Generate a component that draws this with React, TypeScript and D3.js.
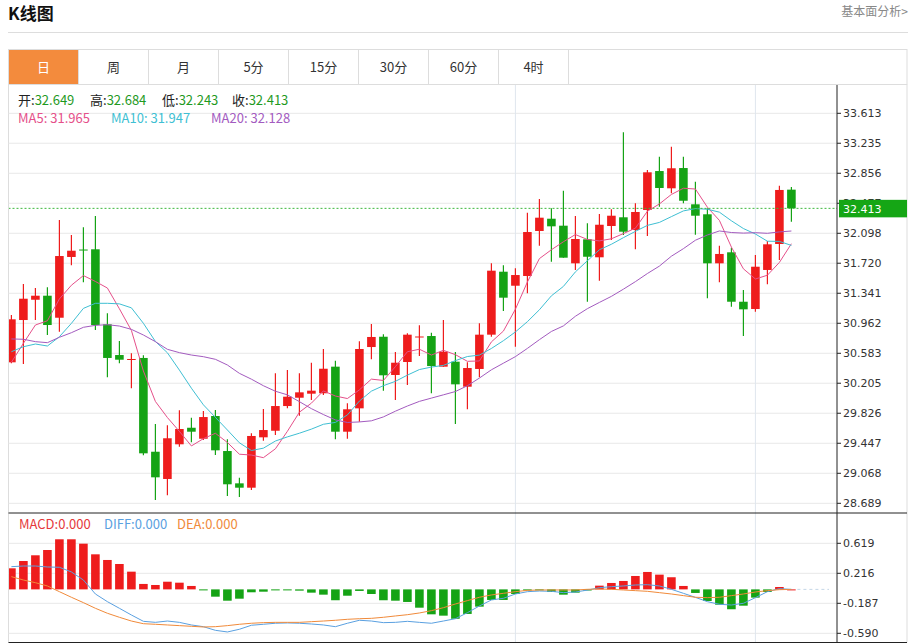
import * as d3 from "d3"

// K-line (daily) data
const opens = [
  30.469, 31.003, 31.259, 31.31, 31.032, 31.799, 31.893, 31.896, 30.949, 30.561,
  30.501, 30.524, 29.34, 28.996, 29.434, 29.643, 29.504, 29.791, 29.349, 28.941,
  28.886, 29.522, 29.605, 29.917, 30.022, 30.073, 30.078, 30.414, 29.593, 29.888,
  30.662, 30.792, 30.309, 30.473, 30.786, 30.801, 30.414, 30.477, 30.161, 30.385,
  30.818, 31.613, 31.436, 31.559, 32.127, 32.282, 32.194, 31.719, 32.022, 31.795,
  32.19, 32.3, 32.14, 32.392, 32.884, 32.666, 32.922, 32.464, 32.338, 31.719,
  31.858, 31.234, 31.142, 31.635, 31.963, 32.649,
]
const highs = [
  31.066, 31.458, 31.407, 31.416, 32.266, 32.077, 32.174, 32.316, 31.088, 30.738,
  30.583, 30.557, 29.69, 29.674, 29.863, 29.77, 29.854, 29.867, 29.497, 29.012,
  29.573, 29.88, 30.33, 30.372, 30.33, 30.464, 30.637, 30.489, 29.951, 30.734,
  30.953, 30.823, 30.599, 30.835, 30.936, 30.843, 31.003, 30.599, 30.469, 30.962,
  31.719, 31.694, 31.656, 32.358, 32.531, 32.414, 32.636, 32.316, 32.224, 32.342,
  32.401, 33.373, 32.477, 32.897, 33.065, 33.191, 33.065, 32.749, 32.414, 31.941,
  31.916, 31.382, 31.824, 32.001, 32.699, 32.684,
]
const lows = [
  30.456, 30.448, 31.003, 30.814, 30.855, 31.694, 31.479, 30.877, 30.28, 30.456,
  30.141, 29.295, 28.73, 28.79, 29.404, 29.459, 29.488, 29.299, 28.781, 28.768,
  28.857, 29.479, 29.551, 29.888, 29.795, 29.993, 30.056, 29.497, 29.504, 29.719,
  30.507, 30.111, 29.993, 30.183, 30.549, 30.078, 30.414, 29.69, 29.876, 30.28,
  30.792, 31.117, 30.666, 31.34, 31.941, 31.739, 31.79, 31.634, 31.234, 31.499,
  32.013, 32.076, 31.896, 32.064, 32.434, 32.603, 32.476, 32.08, 31.277, 31.479,
  31.171, 30.801, 31.108, 31.454, 31.761, 32.243,
]
const closes = [
  31.012, 31.272, 31.31, 30.94, 31.811, 31.878, 31.881, 30.94, 30.524, 30.502,
  30.511, 29.32, 29.017, 29.51, 29.627, 29.593, 29.778, 29.358, 28.929, 28.886,
  29.539, 29.614, 29.917, 30.035, 30.09, 30.111, 30.388, 29.593, 29.876, 30.637,
  30.789, 30.305, 30.464, 30.818, 30.795, 30.422, 30.603, 30.191, 30.397, 30.818,
  31.626, 31.285, 31.571, 32.114, 32.295, 32.186, 31.79, 32.026, 31.802, 32.206,
  32.32, 32.118, 32.367, 32.868, 32.67, 32.919, 32.509, 32.32, 31.719, 31.837,
  31.234, 31.138, 31.676, 31.959, 32.645, 32.413,
]

// MA values before a full window is on screen
const ma5Head = [30.469, 30.709, 30.94, 30.994]
const ma10Head = [30.603, 30.666, 30.7, 30.675, 30.792, 30.961, 31.15, 31.214, 31.214]
const ma20Head = [
  30.764, 30.76, 30.73, 30.717, 30.785, 30.843, 30.911, 30.936, 30.944, 30.927,
  30.885, 30.814, 30.73, 30.633, 30.591, 30.561, 30.54, 30.507, 30.435,
]

// MACD panel
const macdBars = [
  0.283, 0.381, 0.458, 0.529, 0.673, 0.673, 0.614, 0.471, 0.395, 0.341,
  0.238, 0.073, 0.059, 0.103, 0.09, 0.046, -0.004, -0.098, -0.152, -0.125,
  -0.039, -0.031, -0.008, -0.005, -0.017, -0.044, -0.071, -0.146, -0.085, -0.021,
  -0.062, -0.146, -0.152, -0.169, -0.246, -0.335, -0.353, -0.395, -0.33, -0.232,
  -0.142, -0.142, -0.062, -0.015, -0.01, -0.035, -0.071, -0.044, -0.015, 0.05,
  0.086, 0.113, 0.18, 0.234, 0.198, 0.163, 0.046, -0.048, -0.156, -0.206,
  -0.267, -0.219, -0.111, -0.035, 0.032, 0,
]
const diffValues = [
  0.305, 0.314, 0.314, 0.301, 0.297, 0.234, 0.126, -0.062, -0.165, -0.254,
  -0.344, -0.429, -0.443, -0.425, -0.443, -0.478, -0.501, -0.55, -0.572, -0.536,
  -0.482, -0.469, -0.455, -0.451, -0.455, -0.465, -0.478, -0.501, -0.455, -0.415,
  -0.425, -0.447, -0.443, -0.429, -0.443, -0.455, -0.425, -0.394, -0.313, -0.223,
  -0.142, -0.12, -0.062, -0.031, -0.022, -0.026, -0.044, -0.035, -0.01, 0.023,
  0.036, 0.046, 0.059, 0.063, 0.046, 0.001, -0.053, -0.107, -0.165, -0.2,
  -0.21, -0.187, -0.111, -0.031, 0.01, 0,
]
const deaValues = [
  0.171, 0.126, 0.09, 0.046, -0.031, -0.106, -0.178, -0.254, -0.321, -0.375,
  -0.425, -0.461, -0.469, -0.478, -0.487, -0.496, -0.505, -0.501, -0.487, -0.469,
  -0.455, -0.447, -0.443, -0.443, -0.443, -0.434, -0.425, -0.415, -0.402, -0.394,
  -0.389, -0.375, -0.357, -0.34, -0.317, -0.286, -0.246, -0.196, -0.151, -0.106,
  -0.075, -0.053, -0.031, -0.013, -0.008, -0.008, -0.008, -0.008, 0.001, 0.005,
  0.001, -0.008, -0.017, -0.026, -0.044, -0.062, -0.084, -0.106, -0.111, -0.106,
  -0.084, -0.062, -0.035, -0.017, -0.004, 0,
]

const priceTicks = [
  "33.613", "33.235", "32.856", "32.477", "32.098", "31.720", "31.341",
  "30.962", "30.583", "30.205", "29.826", "29.447", "29.068", "28.689",
]
const macdTicks = ["0.619", "0.216", "-0.187", "-0.590"]
const dividerIndex = [42, 62]

const tabs = ["日", "周", "月", "5分", "15分", "30分", "60分", "4时"]
const quoteLabels = ["开", "高", "低", "收"]
const quoteValues = ["32.649", "32.684", "32.243", "32.413"]
const maNames = ["MA5", "MA10", "MA20"]
const maLegendValues = ["31.965", "31.947", "32.128"]
const macdNames = ["MACD", "DIFF", "DEA"]
const macdLegendValues = ["0.000", "0.000", "0.000"]
const lastPrice = 32.413

const RED = "#ee1c1c"
const GREEN = "#15a315"
const MA_COLORS = ["#e5508a", "#3fbfd3", "#a35bbf"]
const MACD_COLORS = ["#e5383b", "#5aa0e0", "#f08a3a"]
const CJK = "'Noto Sans CJK SC', 'Noto Sans', sans-serif"
const AXIS = "'DejaVu Sans', Verdana, sans-serif"

const movingAverage = (period: number, head: number[]) =>
  closes.map((_, i) =>
    i < period - 1 ? head[i] : (d3.mean(closes.slice(i - period + 1, i + 1)) as number)
  )

const LEFT = 8.5
const AXIS_X = 837
const RIGHT = 907
const MAIN_TOP = 85
const MAIN_BOTTOM = 513
const BOTTOM = 642.5

// where each legend item starts
const quoteX = [18, 90, 162, 232]
const maX = [18, 111, 211]
const macdX = [19, 104, 177]

export default function App() {
  const x = d3.scaleLinear().domain([0, closes.length - 1]).range([11.4, 791.4])
  const y = d3.scaleLinear().domain([28.689, 33.613]).range([503.3, 113.3])
  const ym = d3.scaleLinear().domain([-0.59, 0.619]).range([633.3, 543.3])
  const bw = 8.6

  const maSeries = [movingAverage(5, ma5Head), movingAverage(10, ma10Head), movingAverage(20, ma20Head)]
  const priceLine = d3
    .line<number>()
    .x((_, i) => x(i))
    .y((d) => y(d))
  const macdLine = d3
    .line<number>()
    .x((_, i) => x(i))
    .y((d) => ym(d))

  const tabW = 70

  return (
    <svg
      width={914}
      height={644}
      style={{ position: "absolute", left: 0, top: 0, background: "#fff" }}
    >
      <defs>
        <clipPath id="mainClip">
          <rect x={LEFT + 0.5} y={MAIN_TOP} width={AXIS_X - LEFT - 0.5} height={MAIN_BOTTOM - MAIN_TOP} />
        </clipPath>
        <clipPath id="macdClip">
          <rect x={LEFT + 0.5} y={MAIN_BOTTOM} width={AXIS_X - LEFT - 0.5} height={BOTTOM - MAIN_BOTTOM} />
        </clipPath>
      </defs>

      {/* header */}
      <text x={8} y={20} fontFamily={CJK} fontSize={17} fontWeight="bold" fill="#111">
        K线图
      </text>
      <text x={908} y={16} fontFamily={CJK} fontSize={12} fill="#888" textAnchor="end">
        基本面分析&gt;
      </text>
      <line x1={8} x2={908} y1={32.5} y2={32.5} stroke="#ddd" />

      {/* tabs */}
      <rect x={LEFT} y={49.5} width={RIGHT - LEFT} height={35} fill="#fff" stroke="#ddd" />
      {tabs.map((t, i) => (
        <g key={t}>
          <rect
            x={LEFT + i * tabW}
            y={49.5}
            width={tabW}
            height={35}
            fill={i === 0 ? "#f38b3d" : "#fff"}
            stroke="#ddd"
          />
          <text
            x={LEFT + i * tabW + tabW / 2}
            y={72}
            fontFamily={CJK}
            fontSize={13}
            textAnchor="middle"
            fill={i === 0 ? "#fff" : "#333"}
          >
            {t}
          </text>
        </g>
      ))}

      {/* frame */}
      <line x1={LEFT} x2={LEFT} y1={84.5} y2={BOTTOM} stroke="#ddd" />
      <line x1={RIGHT} x2={RIGHT} y1={84.5} y2={BOTTOM} stroke="#ddd" />

      {/* grid */}
      {priceTicks.map((t) => (
        <line key={t} x1={LEFT} x2={AXIS_X} y1={y(+t)} y2={y(+t)} stroke="#e8e8e8" />
      ))}
      {macdTicks.map((t) => (
        <line key={t} x1={LEFT} x2={AXIS_X} y1={ym(+t)} y2={ym(+t)} stroke="#e8e8e8" />
      ))}
      {dividerIndex.map((i) => (
        <line key={i} x1={x(i)} x2={x(i)} y1={MAIN_TOP} y2={BOTTOM} stroke="#dfe6ee" />
      ))}

      {/* candles */}
      <g clipPath="url(#mainClip)">
        {closes.map((c, i) => {
          const o = opens[i]
          const col = c >= o ? RED : GREEN
          const top = y(Math.max(o, c))
          const h = Math.max(1, Math.abs(y(o) - y(c)))
          return (
            <g key={i}>
              <line x1={x(i)} x2={x(i)} y1={y(highs[i])} y2={y(lows[i])} stroke={col} strokeWidth={1.2} />
              <rect x={x(i) - bw / 2} y={top} width={bw} height={h} fill={col} />
            </g>
          )
        })}
        {maSeries.map((s, k) => (
          <path key={k} d={priceLine(s) || ""} fill="none" stroke={MA_COLORS[k]} strokeWidth={1} />
        ))}
        <line
          x1={LEFT}
          x2={AXIS_X}
          y1={y(lastPrice)}
          y2={y(lastPrice)}
          stroke="#3db83d"
          strokeDasharray="2,2"
        />
      </g>

      {/* macd */}
      <g clipPath="url(#macdClip)">
        {macdBars.map((v, i) => (
          <rect
            key={i}
            x={x(i) - bw / 2}
            y={Math.min(ym(v), ym(0))}
            width={bw}
            height={Math.max(1, Math.abs(ym(v) - ym(0)))}
            fill={v >= 0 ? RED : GREEN}
          />
        ))}
        <path d={macdLine(diffValues) || ""} fill="none" stroke={MACD_COLORS[1]} strokeWidth={1} />
        <path d={macdLine(deaValues) || ""} fill="none" stroke={MACD_COLORS[2]} strokeWidth={1} />
        <line
          x1={x(closes.length - 1) + 6}
          x2={AXIS_X - 8}
          y1={ym(0)}
          y2={ym(0)}
          stroke="#c4d6e6"
          strokeDasharray="3,3"
        />
      </g>

      {/* axes */}
      <line x1={AXIS_X} x2={AXIS_X} y1={MAIN_TOP} y2={BOTTOM} stroke="#222" />
      <line x1={LEFT} x2={RIGHT} y1={MAIN_BOTTOM} y2={MAIN_BOTTOM} stroke="#222" />
      <line x1={LEFT} x2={RIGHT} y1={BOTTOM} y2={BOTTOM} stroke="#222" />
      {priceTicks.map((t) => (
        <g key={t}>
          <line x1={AXIS_X} x2={AXIS_X + 4} y1={y(+t)} y2={y(+t)} stroke="#222" />
          <text x={AXIS_X + 6} y={y(+t) + 4} fontFamily={AXIS} fontSize={11} fill="#333">
            {t}
          </text>
        </g>
      ))}
      {macdTicks.map((t) => (
        <g key={t}>
          <line x1={AXIS_X} x2={AXIS_X + 4} y1={ym(+t)} y2={ym(+t)} stroke="#222" />
          <text x={AXIS_X + 6} y={ym(+t) + 4} fontFamily={AXIS} fontSize={11} fill="#333">
            {t}
          </text>
        </g>
      ))}
      <rect x={AXIS_X + 2} y={y(lastPrice) - 8.5} width={RIGHT - AXIS_X - 2} height={17.5} fill="#15a615" />
      <text x={AXIS_X + 6} y={y(lastPrice) + 4.5} fontFamily={AXIS} fontSize={11} fill="#fff">
        {lastPrice.toFixed(3)}
      </text>

      {/* legends */}
      {quoteLabels.map((l, i) => (
        <text key={l} x={quoteX[i]} y={105} fontFamily={CJK} fontSize={13}>
          <tspan fill="#222">{l}:</tspan>
          <tspan fill="#1f9a1f">{quoteValues[i]}</tspan>
        </text>
      ))}
      {maNames.map((n, i) => (
        <text key={n} x={maX[i]} y={123} fontFamily={CJK} fontSize={13} fill={MA_COLORS[i]}>
          {n}: {maLegendValues[i]}
        </text>
      ))}
      {macdNames.map((n, i) => (
        <text key={n} x={macdX[i]} y={529} fontFamily={CJK} fontSize={13} fill={MACD_COLORS[i]}>
          {n}:{macdLegendValues[i]}
        </text>
      ))}
    </svg>
  )
}
